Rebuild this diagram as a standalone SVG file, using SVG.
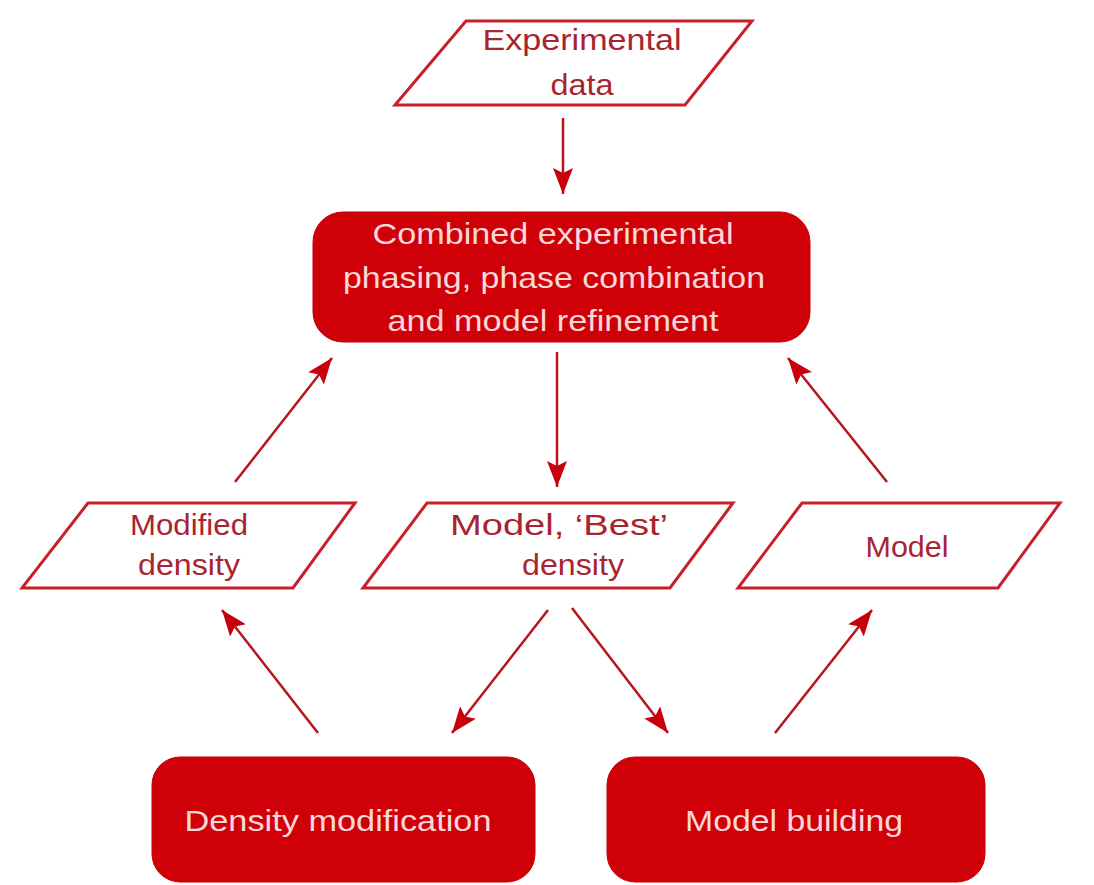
<svg xmlns="http://www.w3.org/2000/svg" width="1094" height="885" viewBox="0 0 1094 885">
<style>
.para{fill:#fff;stroke:#C8202A;stroke-width:3;stroke-linejoin:miter}
.box{fill:#D00008;stroke:#C4000A;stroke-width:1}
.pt{font-family:"Liberation Sans",Arial,sans-serif;font-size:30px;fill:#A82430;text-anchor:middle}
.bt{font-family:"Liberation Sans",Arial,sans-serif;font-size:30px;fill:#FAD8D8;text-anchor:middle}
.conn{stroke:#B8141E;stroke-width:2.5;fill:none;marker-end:url(#ah)}
</style>
<defs>
<marker id="ah" viewBox="0 0 26 20" refX="26" refY="10" markerWidth="26" markerHeight="20" markerUnits="userSpaceOnUse" orient="auto">
<path d="M0,0 L26,10 L0,20 L5,10 z" fill="#C8000C"/>
</marker>
</defs>
<rect width="1094" height="885" fill="#fff"/>
<g id="connectors">
<line class="conn" x1="563" y1="118" x2="563" y2="194"/>
<line class="conn" x1="557" y1="352" x2="557" y2="487"/>
<line class="conn" x1="235" y1="482" x2="332" y2="358"/>
<line class="conn" x1="887" y1="482" x2="788" y2="358"/>
<line class="conn" x1="548" y1="610" x2="452" y2="733"/>
<line class="conn" x1="318" y1="733" x2="222" y2="610"/>
<line class="conn" x1="572" y1="608" x2="668" y2="733"/>
<line class="conn" x1="775" y1="733" x2="872" y2="610"/>
</g>
<g id="experimental-data">
<polygon class="para" points="466,21 752,21 685,105 395,105"/>
<text class="pt" x="582" y="50" textLength="199" lengthAdjust="spacingAndGlyphs">Experimental</text>
<text class="pt" x="582" y="95" textLength="63" lengthAdjust="spacingAndGlyphs">data</text>
</g>
<g id="combined">
<rect class="box" x="313" y="212" width="497" height="130" rx="30" ry="30"/>
<text class="bt" x="553" y="244" textLength="361" lengthAdjust="spacingAndGlyphs">Combined experimental</text>
<text class="bt" x="554" y="288" textLength="422" lengthAdjust="spacingAndGlyphs">phasing, phase combination</text>
<text class="bt" x="553" y="331" textLength="331" lengthAdjust="spacingAndGlyphs">and model refinement</text>
</g>
<g id="modified-density">
<polygon class="para" points="88,503 355,503 293,588 22,588"/>
<text class="pt" x="189" y="535" textLength="118" lengthAdjust="spacingAndGlyphs">Modified</text>
<text class="pt" x="189" y="575" textLength="102" lengthAdjust="spacingAndGlyphs">density</text>
</g>
<g id="best-density">
<polygon class="para" points="427,503 733,503 670,588 363,588"/>
<text class="pt" x="559" y="535" textLength="218" lengthAdjust="spacingAndGlyphs">Model, ‘Best’</text>
<text class="pt" x="573" y="575" textLength="102" lengthAdjust="spacingAndGlyphs">density</text>
</g>
<g id="model">
<polygon class="para" points="802,503 1060,503 998,588 738,588"/>
<text class="pt" x="907" y="557" textLength="83" lengthAdjust="spacingAndGlyphs">Model</text>
</g>
<g id="density-modification">
<rect class="box" x="152" y="757" width="383" height="125" rx="28" ry="28"/>
<text class="bt" x="338" y="831" textLength="307" lengthAdjust="spacingAndGlyphs">Density modification</text>
</g>
<g id="model-building">
<rect class="box" x="607" y="757" width="378" height="125" rx="28" ry="28"/>
<text class="bt" x="794" y="831" textLength="218" lengthAdjust="spacingAndGlyphs">Model building</text>
</g>
</svg>
